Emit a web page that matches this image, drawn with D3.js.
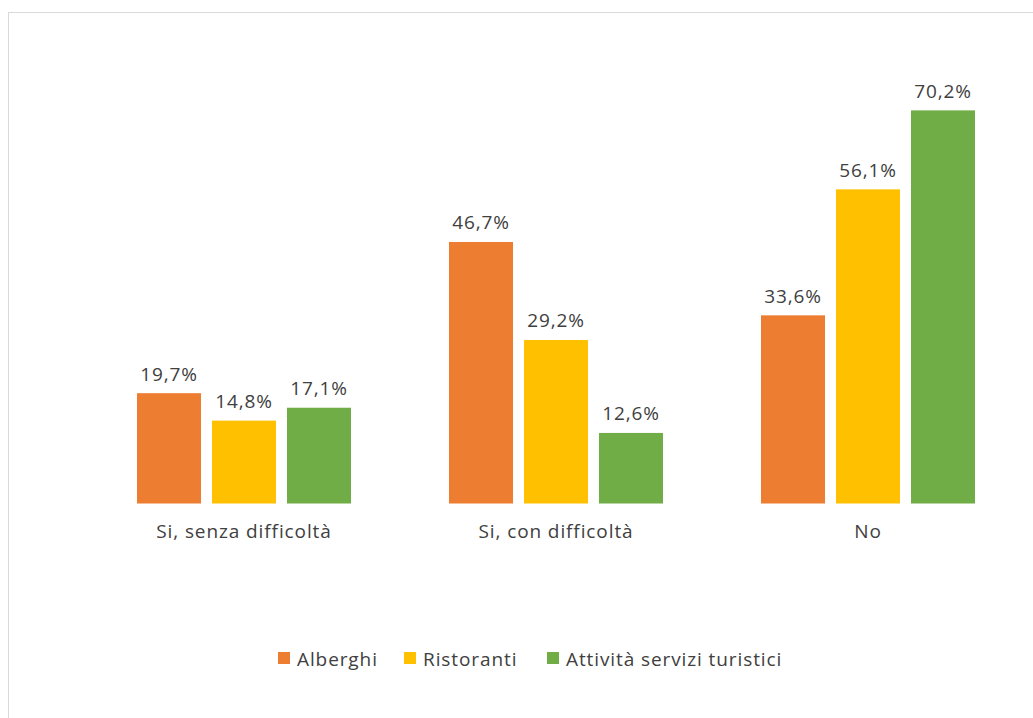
<!DOCTYPE html>
<html>
<head>
<meta charset="utf-8">
<script src="https://cdn.jsdelivr.net/npm/d3@7"></script>
<style>
  html, body { margin: 0; padding: 0; background: #fff; }
  svg { display: block; font-family: "Open Sans", sans-serif; }
</style>
</head>
<body>
<div id="chart"></div>
<script>
const categories = ['Si, senza difficoltà', 'Si, con difficoltà', 'No'];
const seriesNames = ['Alberghi', 'Ristoranti', 'Attività servizi turistici'];
const alberghi = [19.7, 46.7, 33.6];
const ristoranti = [14.8, 29.2, 56.1];
const servizi = [17.1, 12.6, 70.2];
const colors = ['#ED7D31', '#FFC000', '#70AD47'];

const W = 1033, H = 718;
const values = [alberghi, ristoranti, servizi];
const textColor = '#404040';

const svg = d3.select('#chart').append('svg')
  .attr('width', W).attr('height', H);

// outer frame (runs off the right / bottom edge)
svg.append('rect')
  .attr('x', 8.5).attr('y', 12.5)
  .attr('width', W + 10).attr('height', H + 10)
  .attr('fill', '#fff').attr('stroke', '#d9d9d9');

const x0 = d3.scaleBand().domain(categories).range([88, 1024]);
const x1 = d3.scaleBand().domain(seriesNames)
  .range([49, 263]).paddingInner(11 / 75).paddingOuter(0);
const y = d3.scaleLinear().domain([0, 80]).range([503.5, 55.5]);

const fmt = v => d3.format('.1f')(v).replace('.', ',') + '%';

const groups = svg.append('g').selectAll('g')
  .data(categories)
  .join('g')
  .attr('transform', d => `translate(${x0(d)},0)`);

const cells = (d, i) => seriesNames.map((s, j) => ({ s, j, v: values[j][i] }));

groups.selectAll('rect')
  .data(cells)
  .join('rect')
  .attr('x', d => x1(d.s))
  .attr('y', d => y(d.v))
  .attr('width', x1.bandwidth())
  .attr('height', d => y(0) - y(d.v))
  .attr('fill', d => colors[d.j]);

groups.selectAll('text.val')
  .data(cells)
  .join('text')
  .attr('class', 'val')
  .attr('x', d => x1(d.s) + x1.bandwidth() / 2)
  .attr('y', d => y(d.v) - 12.5)
  .attr('text-anchor', 'middle')
  .attr('font-size', 19)
  .attr('letter-spacing', 0.9)
  .attr('fill', textColor)
  .text(d => fmt(d.v));

// category labels
svg.append('g').selectAll('text')
  .data(categories)
  .join('text')
  .attr('x', d => x0(d) + x0.bandwidth() / 2)
  .attr('y', 538)
  .attr('text-anchor', 'middle')
  .attr('font-size', 19)
  .attr('letter-spacing', 0.9)
  .attr('fill', textColor)
  .text(d => d);

// legend
const legendX = [278, 404, 547];
const legend = svg.append('g').selectAll('g')
  .data(seriesNames)
  .join('g')
  .attr('transform', (d, i) => `translate(${legendX[i]},652)`);

legend.append('rect')
  .attr('width', 12).attr('height', 12)
  .attr('fill', (d, i) => colors[i]);

legend.append('text')
  .attr('x', 19).attr('y', 13.5)
  .attr('font-size', 19)
  .attr('letter-spacing', 0.9)
  .attr('fill', textColor)
  .text(d => d);
</script>
</body>
</html>
